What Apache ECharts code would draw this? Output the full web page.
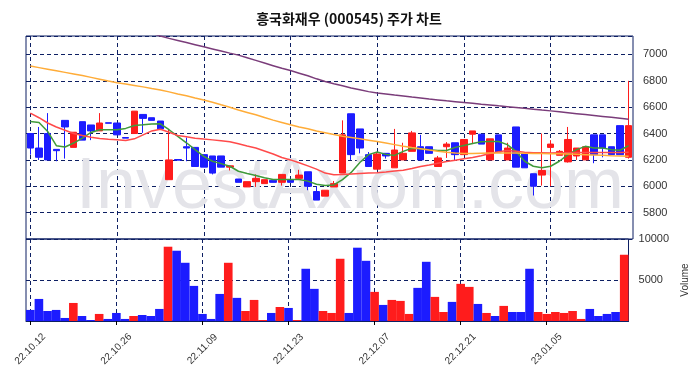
<!DOCTYPE html>
<html>
<head>
<meta charset="utf-8">
<title>흥국화재우 주가 차트</title>
<script src="https://cdn.jsdelivr.net/npm/echarts@6/dist/echarts.min.js"></script>
<style>
html, body { margin: 0; padding: 0; background: #fff; }
#main { width: 698px; height: 378px; }
</style>
</head>
<body>
<div id="main"></div>
<script>
// 거래일 (70일)
var dates = ['22.10.12','22.10.13','22.10.14','22.10.17','22.10.18','22.10.19','22.10.20','22.10.21','22.10.24','22.10.25',
  '22.10.26','22.10.27','22.10.28','22.10.31','22.11.01','22.11.02','22.11.03','22.11.04','22.11.07','22.11.08',
  '22.11.09','22.11.10','22.11.11','22.11.14','22.11.15','22.11.16','22.11.17','22.11.18','22.11.21','22.11.22',
  '22.11.23','22.11.24','22.11.25','22.11.28','22.11.29','22.11.30','22.12.01','22.12.02','22.12.05','22.12.06',
  '22.12.07','22.12.08','22.12.09','22.12.12','22.12.13','22.12.14','22.12.15','22.12.16','22.12.19','22.12.20',
  '22.12.21','22.12.22','22.12.23','22.12.26','22.12.27','22.12.28','22.12.29','23.01.02','23.01.03','23.01.04',
  '23.01.05','23.01.06','23.01.09','23.01.10','23.01.11','23.01.12','23.01.13','23.01.16','23.01.17','23.01.18'];

var opens = [6400,6290,6400,6280,6500,6295,6490,6465,6420,6482,
  6480,6370,6400,6545,6520,6495,6050,6203,6300,6295,
  6240,6230,6230,6145,6055,5995,6035,6020,6045,6030,
  6050,6060,6110,5960,5925,5995,6100,6550,6435,6240,
  6130,6250,6140,6200,6265,6300,6300,6150,6300,6330,
  6240,6395,6395,6200,6390,6200,6450,6250,6095,6085,
  6295,6235,6185,6230,6200,6390,6390,6300,6460,6220];
var closes = [6290,6220,6200,6270,6450,6410,6350,6420,6480,6478,
  6390,6365,6570,6515,6500,6435,6200,6198,6290,6150,
  6145,6100,6145,6155,6030,6035,6060,6050,6030,6090,
  6030,6085,6000,5895,5970,6020,6390,6240,6290,6150,
  6245,6230,6275,6250,6405,6200,6250,6215,6320,6240,
  6355,6420,6320,6360,6260,6290,6145,6140,6000,6120,
  6320,6265,6355,6290,6300,6240,6290,6240,6240,6460];
var lows = [6240,6200,6200,6190,6210,6295,6350,6350,6420,6478,
  6390,6365,6400,6405,6500,6435,6050,6198,6190,6150,
  6145,6090,6145,6120,6030,5995,5995,6020,6030,6005,
  6030,6055,5970,5895,5925,5995,6100,6200,6250,6150,
  6130,6210,6140,6200,6265,6200,6250,6150,6215,6195,
  6240,6320,6320,6200,6260,6200,6145,6140,5930,6005,
  6000,6235,6180,6200,6200,6175,6220,6240,6240,6210];
var highs = [6400,6450,6555,6280,6500,6410,6490,6465,6555,6482,
  6480,6370,6570,6545,6520,6495,6430,6203,6370,6295,
  6240,6230,6230,6155,6055,6035,6090,6050,6045,6090,
  6050,6125,6110,6000,5970,6040,6500,6550,6435,6260,
  6260,6250,6435,6330,6420,6390,6300,6230,6335,6330,
  6355,6420,6395,6360,6390,6330,6450,6250,6095,6400,
  6350,6275,6450,6290,6300,6390,6390,6300,6460,6800];
var volumes = [1350,2690,1220,1350,370,2200,610,120,860,250,
  980,250,610,730,610,1470,9060,8570,7100,4280,
  860,250,3300,7100,2820,1220,2570,120,980,1710,
  1590,120,6370,3920,1220,980,7590,980,8940,7340,
  3550,1960,2570,2450,860,4040,7220,2940,1100,2330,
  4530,4160,2080,980,610,1840,1100,1100,6370,1100,
  860,1100,980,1220,250,1470,610,860,1100,8080];

// 이동평균선
var ma5 = [6491,6484,6416,6308,6298,6328,6366,6408,6429,6429,
  6429,6439,6461,6466,6472,6474,6429,6378,6330,6278,
  6227,6190,6172,6152,6114,6097,6082,6064,6051,6051,
  6051,6051,6039,6015,6005,6010,6050,6105,6180,6240,
  6260,6242,6234,6265,6288,6285,6278,6272,6272,6295,
  6310,6325,6338,6340,6340,6316,6265,6190,6152,6140,
  6152,6190,6240,6278,6303,6291,6291,6278,6273,6308];
var ma20 = [6555,6520,6480,6450,6425,6400,6385,6372,6362,6356,
  6352,6348,6360,6390,6420,6432,6410,6385,6375,6365,
  6358,6352,6346,6338,6322,6305,6290,6268,6245,6218,
  6200,6178,6155,6130,6100,6088,6090,6093,6097,6100,
  6102,6108,6115,6122,6135,6150,6162,6175,6188,6198,
  6208,6218,6232,6248,6262,6272,6265,6258,6255,6254,
  6253,6254,6255,6256,6257,6257,6257,6257,6257,6258];
var ma60 = [6912,6900,6888,6876,6864,6852,6840,6826,6812,6798,
  6786,6776,6765,6754,6742,6731,6716,6700,6686,6670,
  6655,6637,6618,6600,6578,6560,6542,6522,6502,6484,
  6466,6450,6436,6420,6406,6392,6380,6370,6360,6350,
  6340,6328,6316,6304,6294,6285,6275,6266,6258,6252,
  6249,6248,6250,6252,6253,6253,6252,6250,6249,6248,
  6247,6246,6244,6242,6240,6238,6235,6232,6230,6227];
var ma120 = [7370,7355,7340,7325,7310,7295,7280,7265,7250,7235,
  7220,7205,7190,7175,7160,7140,7122,7106,7090,7074,
  7058,7042,7026,7010,6995,6975,6955,6935,6915,6895,
  6878,6858,6838,6815,6795,6778,6762,6746,6732,6718,
  6708,6700,6692,6685,6677,6670,6662,6655,6648,6642,
  6636,6630,6623,6617,6610,6604,6598,6591,6585,6578,
  6572,6565,6558,6551,6544,6537,6530,6523,6516,6509];

var upColor = '#ff1c1c';
var downColor = '#1c1cff';
var navy = '#0d1f63';

var chart = echarts.init(document.getElementById('main'));

var candleData = [];
for (var i = 0; i < dates.length; i++) {
  candleData.push([opens[i], closes[i], lows[i], highs[i]]);
}

// 천단위 콤마 없이 표시
function plainLabel(v) {
  return String(v);
}

function maSeries(name, data, color) {
  return {
    name: name,
    type: 'line',
    xAxisIndex: 0,
    yAxisIndex: 0,
    data: data,
    showSymbol: false,
    clip: true,
    lineStyle: { color: color, width: 1.5 },
    z: 3
  };
}

var option = {
  animation: false,
  textStyle: { fontFamily: 'Liberation Sans' },
  title: {
    text: '흥국화재우 (000545) 주가 차트',
    left: 'center',
    top: 7,
    textStyle: { fontSize: 14, fontWeight: 'bold', color: '#111', fontFamily: 'Noto Sans CJK KR' }
  },
  graphic: [{
    type: 'text',
    x: 350,
    y: 188,
    z: 1,
    silent: true,
    style: {
      text: 'InvestAxiom.com',
      fontSize: 72,
      fontFamily: 'Liberation Sans',
      fill: '#e4e4e9',
      align: 'center',
      verticalAlign: 'middle'
    }
  }],
  grid: [
    { left: 26, right: 65, top: 36, height: 203, show: true, borderColor: navy, borderWidth: 1 },
    { left: 26, right: 65, top: 239, height: 82, show: true, borderColor: navy, borderWidth: 1 }
  ],
  xAxis: [{
    type: 'category',
    gridIndex: 0,
    data: dates,
    axisLine: { show: false },
    axisTick: { show: false },
    axisLabel: { show: false },
    splitLine: { show: true, interval: 9, alignWithLabel: true, lineStyle: { color: navy, type: [4, 3] } }
  }, {
    type: 'category',
    gridIndex: 1,
    data: dates,
    axisLine: { lineStyle: { color: navy } },
    axisTick: { show: true, alignWithLabel: true, interval: 9, length: 4, lineStyle: { color: '#000' } },
    axisLabel: { interval: 9, rotate: 45, align: 'center', verticalAlign: 'middle', margin: 28, fontSize: 10, color: '#333' },
    splitLine: { show: true, interval: 9, alignWithLabel: true, lineStyle: { color: navy, type: [4, 3] } }
  }],
  yAxis: [{
    type: 'value',
    gridIndex: 0,
    position: 'right',
    min: 5600,
    max: 7140,
    interval: 200,
    axisLine: { show: false },
    axisTick: { show: false },
    axisLabel: { formatter: plainLabel, showMinLabel: false, showMaxLabel: false, fontSize: 11, color: '#333', margin: 10 },
    splitLine: { lineStyle: { color: navy, type: [4, 3] } }
  }, {
    type: 'value',
    gridIndex: 1,
    position: 'right',
    min: 0,
    max: 10000,
    interval: 5000,
    name: 'Volume',
    nameLocation: 'middle',
    nameRotate: 90,
    nameGap: 50,
    nameTextStyle: { fontSize: 10, color: '#333' },
    axisLine: { show: false },
    axisTick: { show: false },
    axisLabel: { formatter: plainLabel, showMinLabel: false, fontSize: 11, color: '#333', margin: 10 },
    splitLine: { lineStyle: { color: navy, type: [4, 3] } }
  }],
  series: [{
    name: 'price',
    type: 'candlestick',
    xAxisIndex: 0,
    yAxisIndex: 0,
    data: candleData,
    barWidth: 7,
    itemStyle: {
      color: upColor,
      color0: downColor,
      borderColor: upColor,
      borderColor0: downColor,
      borderWidth: 1
    }
  },
  maSeries('MA5', ma5, '#3f9a3a'),
  maSeries('MA20', ma20, '#ff4a4a'),
  maSeries('MA60', ma60, '#ffac38'),
  maSeries('MA120', ma120, '#7a3c7a'),
  {
    name: 'volume',
    type: 'bar',
    xAxisIndex: 1,
    yAxisIndex: 1,
    data: volumes,
    barCategoryGap: '0%',
    itemStyle: {
      color: function (p) {
        return closes[p.dataIndex] > opens[p.dataIndex] ? upColor : downColor;
      }
    }
  }]
};

chart.setOption(option);
</script>
</body>
</html>
